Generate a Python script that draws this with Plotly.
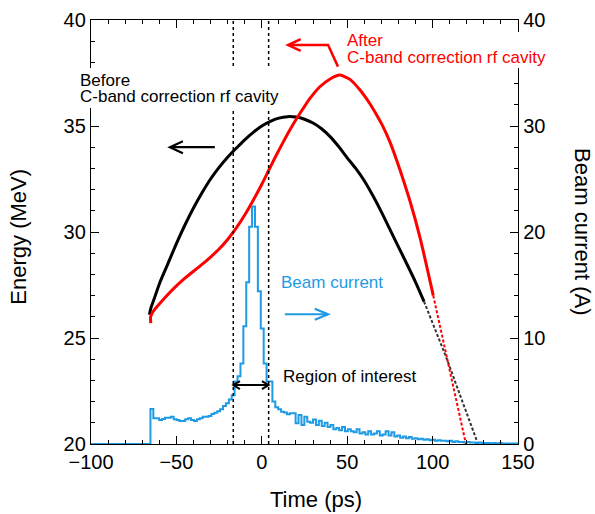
import plotly.graph_objects as go

# ---------------- data ----------------
# Energy (MeV) before the C-band correction cavity
before_t = [-65.8, -65.0, -63, -60, -55, -50, -45, -40, -35, -30, -25, -20, -15, -10, -5, 0, 5, 10, 15, 20,
            25, 30, 35, 40, 45, 50, 55, 60, 65, 70, 75, 80, 85, 90, 95, 100, 108.4, 117, 126.6]
before_E = [26.1, 26.4, 26.85, 27.55, 28.5, 29.45, 30.33, 31.13, 31.85, 32.5, 33.05, 33.53, 33.95, 34.35, 34.7,
            35.0, 35.22, 35.37, 35.44, 35.42, 35.32, 35.14, 34.87, 34.5, 34.03, 33.5, 33.0, 32.42, 31.72, 30.95,
            30.12, 29.3, 28.48, 27.64, 26.72, 25.7, 24.0, 22.1, 20.0]

# Energy (MeV) after the C-band correction cavity
after_t = [-65.0, -65.1, -64.0, -62, -59.6, -55, -51.8, -45, -42, -35, -30, -25, -20, -15, -10, -5, 0, 4, 8,
           12.6, 16, 20.4, 24, 28.2, 34, 40, 45.8, 51.6, 57.5, 63.3, 67, 71.1, 75, 78.9, 83, 86.8, 92.6,
           100.4, 108.4, 113, 119.5]
after_E = [25.7, 26.0, 26.2, 26.42, 26.64, 27.05, 27.32, 27.82, 28.02, 28.47, 28.82, 29.2, 29.65, 30.18, 30.8,
           31.5, 32.25, 32.9, 33.55, 34.25, 34.75, 35.35, 35.8, 36.3, 36.85, 37.22, 37.4, 37.2, 36.7, 36.05,
           35.55, 34.95, 34.25, 33.4, 32.42, 31.45, 29.75, 27.0, 24.1, 22.4, 20.0]

# Beam current histogram (A), bins of equal width starting at current_t0 (ps)
current_t0 = -65.2
current_bin = 1.7
beam_current = [3.3, 2.42, 2.42, 2.26, 2.36, 2.48, 2.48, 2.58, 2.33, 2.26, 2.17, 2.17, 2.33, 2.42, 2.26, 2.17,
                2.33, 2.42, 2.58, 2.58, 2.64, 2.83, 2.95, 3.1, 3.27, 3.58, 3.84, 4.2, 4.6, 5.9, 6.4, 7.6,
                11.1, 15.25, 20.5, 22.4, 20.5, 14.4, 10.9, 7.6, 5.9, 5.9, 4.0, 3.46, 3.27, 3.05, 2.96, 2.8,
                2.9, 2.9, 1.95, 2.74, 1.79, 2.58, 2.11, 2.0, 2.3, 1.8, 2.2, 1.7, 2.0, 1.6, 1.8, 1.4, 1.5, 1.3,
                1.6, 1.2, 1.4, 1.2, 1.1, 1.4, 1.0, 1.1, 0.9, 1.2, 0.9, 1.0, 1.2, 0.8, 0.9, 1.2, 0.8, 1.1, 0.7,
                0.8, 0.6, 0.7, 0.55, 0.65, 0.5, 0.55, 0.45, 0.5, 0.4, 0.45, 0.35, 0.4, 0.3, 0.35, 0.3, 0.3,
                0.25, 0.3, 0.2, 0.25, 0.2, 0.2, 0.15, 0.2, 0.15, 0.15, 0.1, 0.15, 0.1, 0.1, 0.1, 0.05, 0.1,
                0.05, 0.1, 0.05, 0.05, 0.05, 0.05, 0.05]

roi_edges = [-16.7, 4.0]          # region of interest (ps)
x_range = [-100, 150]
energy_range = [20, 40]
current_range = [0, 40]

# ---------------- styles ----------------
RED = "#ff0000"
BLUE = "#1e9be4"
FONT = "Liberation Sans, Arial, Helvetica, sans-serif"

fig = go.Figure()

# histogram as a step line
hx = [x_range[0]] + [current_t0 + i * current_bin for i in range(len(beam_current))] + [x_range[1]]
hy = [0] + beam_current + [beam_current[-1]]
fig.add_trace(go.Scatter(x=hx, y=hy, yaxis="y2", mode="lines",
                         line=dict(color=BLUE, width=2, shape="hv"), hoverinfo="skip"))

def split(ts, es, tcut):
    i = max(k for k, t in enumerate(ts) if t <= tcut)
    return (ts[:i + 1], es[:i + 1]), (ts[i:], es[i:])

(bm_t, bm_e), (bt_t, bt_e) = split(before_t, before_E, 95)
(am_t, am_e), (at_t, at_e) = split(after_t, after_E, 100.4)

fig.add_trace(go.Scatter(x=bm_t, y=bm_e, mode="lines",
                         line=dict(color="black", width=3, shape="spline", smoothing=0.6)))
fig.add_trace(go.Scatter(x=bt_t, y=bt_e, mode="lines",
                         line=dict(color="#333333", width=2, dash="3px,2px")))
fig.add_trace(go.Scatter(x=am_t, y=am_e, mode="lines",
                         line=dict(color=RED, width=3, shape="spline", smoothing=0.6)))
fig.add_trace(go.Scatter(x=at_t, y=at_e, mode="lines",
                         line=dict(color=RED, width=2, dash="3px,2px")))

shapes = []
# dotted region-of-interest lines
for xv in roi_edges:
    shapes.append(dict(type="line", xref="x", yref="y", x0=xv, x1=xv, y0=energy_range[0], y1=energy_range[1],
                       line=dict(color="black", width=1.5, dash="dot"), layer="above"))

# white backings behind the two cavity labels (they interrupt axis and dotted lines)
shapes.append(dict(type="rect", xref="paper", yref="paper", x0=-0.033, x1=0.457, y0=0.7925, y1=0.8868,
                   fillcolor="white", line=dict(width=0), layer="above"))
shapes.append(dict(type="rect", xref="paper", yref="paper", x0=0.5925, x1=1.0796, y0=0.8868, y1=0.9717,
                   fillcolor="white", line=dict(width=0), layer="above"))

def arrow_path(points, color, width):
    d = "M " + " L ".join(f"{x},{y}" for x, y in points)
    return dict(type="path", xref="x", yref="y", path=d, line=dict(color=color, width=width), layer="above")

# black arrow (points to left axis)
shapes.append(arrow_path([(-27.5, 34.0), (-53.8, 34.0)], "black", 2.2))
shapes.append(arrow_path([(-46.2, 34.28), (-53.8, 34.0), (-46.2, 33.72)], "black", 2.2))
# blue arrow (points to right axis)
shapes.append(arrow_path([(13.5, 26.12), (38.8, 26.12)], BLUE, 2.2))
shapes.append(arrow_path([(31.0, 26.38), (38.8, 26.12), (31.0, 25.86)], BLUE, 2.2))
# red bent arrow
shapes.append(arrow_path([(44.6, 37.8), (38.8, 38.82), (15.4, 38.82)], RED, 2.5))
shapes.append(arrow_path([(22.8, 39.1), (15.4, 38.82), (22.8, 38.54)], RED, 2.5))
# region of interest double arrow
shapes.append(arrow_path([(roi_edges[0], 22.78), (roi_edges[1], 22.78)], "black", 2))
shapes.append(arrow_path([(roi_edges[0] + 3.9, 22.97), (roi_edges[0], 22.78), (roi_edges[0] + 3.9, 22.59)], "black", 2))
shapes.append(arrow_path([(roi_edges[1] - 3.9, 22.97), (roi_edges[1], 22.78), (roi_edges[1] - 3.9, 22.59)], "black", 2))

def label(text, x, y, color, xref="x"):
    return dict(text=text, x=x, y=y, xref=xref, yref="y", showarrow=False, xanchor="left", yanchor="middle",
                font=dict(family=FONT, size=17, color=color), borderpad=0)

def title(text, x, y, angle):
    return dict(text=text, x=x, y=y, xref="paper", yref="paper", showarrow=False, xanchor="center",
                yanchor="middle", textangle=angle, font=dict(family=FONT, size=22, color="black"))

annotations = [
    label("Before", -0.028, 37.17, "black", xref="paper"),
    label("C-band correction rf cavity", -0.028, 36.4, "black", xref="paper"),
    label("After", 49.5, 39.05, RED),
    label("C-band correction rf cavity", 49.5, 38.22, RED),
    label("Beam current", 10.5, 27.6, BLUE),
    label("Region of interest", 11.7, 23.2, "black"),
    title("Time (ps)", 0.527, -0.132, 0),
    title("Energy (MeV)", -0.170, 0.49, -90),
    title("Beam current (A)", 1.152, 0.50, 90),
]

axis_common = dict(showline=True, linecolor="black", linewidth=1.3, ticks="inside", tickcolor="black",
                   tickwidth=1.2, ticklen=8, showgrid=False, zeroline=False, automargin=False,
                   tickfont=dict(family=FONT, size=20, color="black"))

fig.update_layout(
    width=595, height=514, margin=dict(l=91, r=77, t=20, b=70),
    paper_bgcolor="white", plot_bgcolor="white", showlegend=False,
    font=dict(family=FONT, color="black"),
    xaxis=dict(range=x_range, dtick=50, tick0=0, mirror="ticks",
               minor=dict(dtick=10, ticklen=4, ticks="inside", tickcolor="black", tickwidth=1.2),
               **axis_common),
    yaxis=dict(range=energy_range, dtick=5, tick0=0,
               minor=dict(dtick=1, ticklen=4, ticks="inside", tickcolor="black", tickwidth=1.2),
               **axis_common),
    yaxis2=dict(range=current_range, dtick=10, tick0=0, overlaying="y", side="right",
                minor=dict(dtick=2, ticklen=4, ticks="inside", tickcolor="black", tickwidth=1.2),
                **axis_common),
    shapes=shapes,
    annotations=annotations,
)

fig.write_html("out.html")
